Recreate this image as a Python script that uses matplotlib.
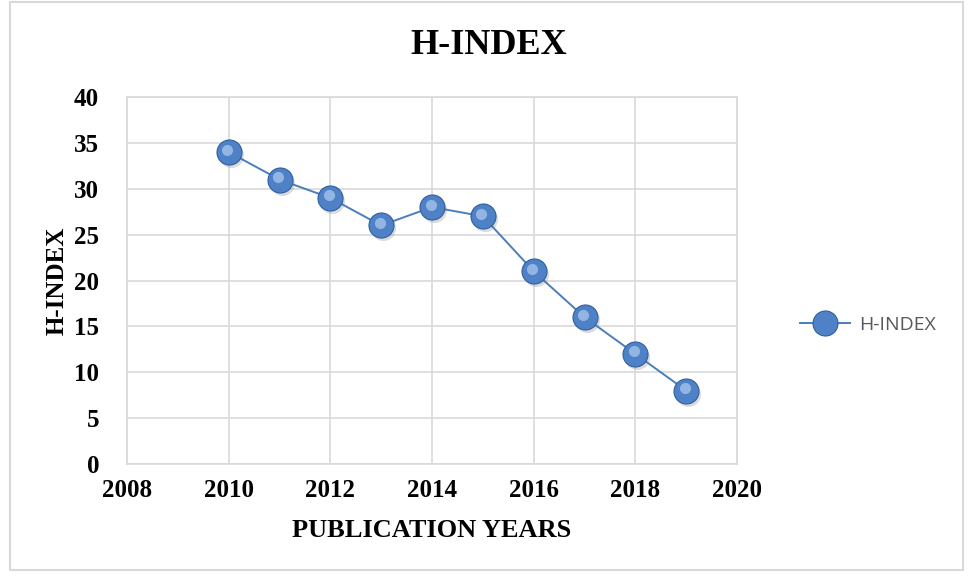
import matplotlib.pyplot as plt
from matplotlib.lines import Line2D
from matplotlib.patches import Rectangle
from matplotlib.transforms import ScaledTranslation

# H-index per publication year
years = [2010, 2011, 2012, 2013, 2014, 2015, 2016, 2017, 2018, 2019]
h_index = [34, 31, 29, 26, 28, 27, 21, 16, 12, 8]

x_ticks = [2008, 2010, 2012, 2014, 2016, 2018, 2020]
y_ticks = [0, 5, 10, 15, 20, 25, 30, 35, 40]

serif = ['Liberation Serif', 'DejaVu Serif']
line_color = '#4a7ebb'
ball = dict(marker='o', ms=18, mfc='#4f81c7', mec='#2f5f9e', mew=0.8)

fig = plt.figure(figsize=(9.68, 5.78), dpi=100)
ax = fig.add_axes([0.1312, 0.1972, 0.6302, 0.635])

# soft shadow, sphere body, highlight
shadow = ax.transData + ScaledTranslation(2 / 100, -3 / 100, fig.dpi_scale_trans)
ax.plot(years, h_index, 'o', ms=18, color='#9a9a9a', alpha=0.35, mec='none',
        transform=shadow, zorder=2)
ax.plot(years, h_index, '-', color=line_color, lw=1.4, zorder=3)
ax.plot(years, h_index, ls='none', zorder=4, **ball)
hl = ax.transData + ScaledTranslation(-1.5 / 100, 2.5 / 100, fig.dpi_scale_trans)
ax.plot(years, h_index, 'o', ms=8, color='#a9c7ee', alpha=0.75, mec='none',
        transform=hl, zorder=5)

ax.set_xlim(2008, 2020)
ax.set_ylim(0, 40)
ax.set_xticks(x_ticks)
ax.set_yticks(y_ticks)
ax.grid(True, color='#d9d9d9', lw=1.2)
ax.set_axisbelow(True)
for s in ax.spines.values():
    s.set_color('#d9d9d9')
    s.set_linewidth(1.2)
ax.tick_params(length=0, labelsize=18)
for lab in ax.get_xticklabels() + ax.get_yticklabels():
    lab.set_family(serif)
    lab.set_fontweight('bold')
ax.tick_params(axis='y', pad=20)
ax.tick_params(axis='x', pad=11)

fig.text(489 / 968, 1 - 45 / 578, 'H-INDEX', family=serif, fontweight='bold',
         fontsize=26, ha='center', va='center')
ax.set_xlabel('PUBLICATION YEARS', family=serif, fontweight='bold', fontsize=19,
              labelpad=12)
ax.set_ylabel('H-INDEX', family=serif, fontweight='bold', fontsize=18,
              labelpad=4)

handle = Line2D([], [], color=line_color, lw=1.4, **ball)
leg = ax.legend([handle], ['H-INDEX'], loc='center left',
                bbox_to_anchor=(1.103, 0.38), frameon=False, borderpad=0,
                borderaxespad=0, handlelength=2.6, handletextpad=0.45,
                prop={'family': ['Open Sans', 'DejaVu Sans'], 'size': 14})
for t in leg.get_texts():
    t.set_color('#595959')

fig.patches.append(Rectangle((10 / 968, 8 / 578), 953 / 968, 568 / 578,
                             transform=fig.transFigure, fill=False,
                             ec='#d9d9d9', lw=1.5))

fig.savefig('out.png', dpi=100)
